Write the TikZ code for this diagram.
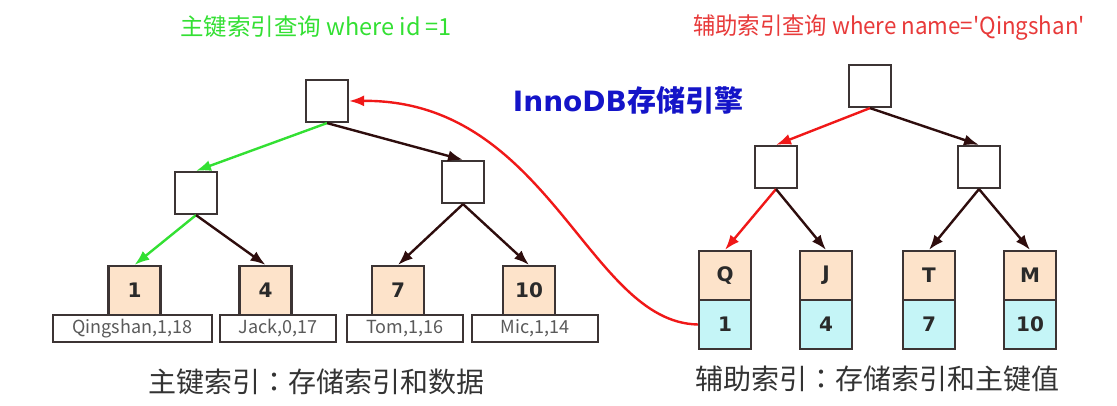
\documentclass[tikz,border=0pt]{standalone}
\usepackage{fontspec}
\usepackage{graphicx}
\setmainfont{Noto Sans CJK SC}
\newfontfamily\cjk{Noto Sans CJK SC}
\newfontfamily\cjktc{Noto Sans CJK TC}
\newfontfamily\dvs{DejaVu Sans}
\usetikzlibrary{arrows.meta}
\definecolor{greenc}{HTML}{33E033}
\definecolor{redt}{HTML}{E83A3A}
\definecolor{redl}{HTML}{F01818}
\definecolor{bluec}{HTML}{1414C8}
\definecolor{boxc}{HTML}{3C3434}
\definecolor{arrc}{HTML}{2E0D0D}
\definecolor{peach}{HTML}{FDE3CA}
\definecolor{cyanv}{HTML}{C5F5F7}
\definecolor{keyc}{HTML}{2A2A2A}
\definecolor{datac}{HTML}{5A5A5A}
\definecolor{capc}{HTML}{333333}
\begin{document}
\begin{tikzpicture}[x=1pt,y=-1pt,
  innerbox/.style={draw=boxc, line width=2.2pt, fill=white, minimum width=42pt, minimum height=42pt, inner sep=0pt},
  leafk/.style={draw=boxc, line width=2.2pt, fill=peach, minimum width=52pt, minimum height=49pt, inner sep=0pt, text=keyc, font=\dvs\bfseries\fontsize{20}{20}\selectfont},
  leafv/.style={leafk, fill=cyanv},
  databox/.style={draw=boxc, line width=2pt, fill=white, minimum height=27pt, inner sep=0pt, text=datac, font=\cjk\fontsize{18}{18}\selectfont},
  link/.style={-{Latex[length=15pt,width=11pt]}, line width=2.4pt, draw=arrc},
  glink/.style={link, draw=greenc},
  rlink/.style={link, draw=redl},
  title/.style={font=\cjk\fontsize{23.5}{23.5}\selectfont, inner sep=0pt},
  caption/.style={font=\cjk\fontsize{28}{28}\selectfont, text=capc, inner sep=0pt}
]
\fill[white] (0,0) rectangle (1117,406);
\useasboundingbox (0,0) rectangle (1117,406);

% titles
\node[title, text=greenc] (t1) at (316,27) {主键索引查询 where id =1};
\node[title, text=redt] (t2) at (889,28) {\scalebox{0.95}[1]{辅助索引查询 where name='Qingshan'}};
\node[text=bluec, inner sep=0pt] (inno) at (628,100) {{\dvs\bfseries\fontsize{28}{28}\selectfont InnoDB}{\cjk\bfseries\fontsize{29}{29}\selectfont 存储引擎}};

% left tree
\node[innerbox] (lr) at (327,101) {};
\node[innerbox] (la) at (196,193) {};
\node[innerbox] (lb) at (463,182) {};
\node[leafk] (k1) at (134.5,290.5) {1};
\node[leafk] (k4) at (265.5,290.5) {4};
\node[leafk] (k7) at (398,290.5) {7};
\node[leafk] (k10) at (529,290.5) {10};
\node[databox, minimum width=159pt] (d1) at (132.5,328.5) {Qingshan,1,18};
\node[databox, minimum width=116pt] (d4) at (278,328.5) {Jack,0,17};
\node[databox, minimum width=116pt] (d7) at (405,328.5) {Tom,1,16};
\node[databox, minimum width=126pt] (d10) at (535,328.5) {Mic,1,14};

\draw[glink] (lr.south) -- (la.north);
\draw[link] (lr.south) -- (lb.north);
\draw[glink] (la.south) -- (k1.north);
\draw[link] (la.south) -- (k4.north);
\draw[link] (lb.south) -- (k7.north);
\draw[link] (lb.south) -- (k10.north);

% right tree
\node[innerbox] (rr) at (870,86) {};
\node[innerbox] (ra) at (776,167) {};
\node[innerbox] (rb) at (979,167) {};
\node[leafk] (qk) at (725,275.5) {Q};
\node[leafv] (qv) at (725,324.5) {1};
\node[leafk] (jk) at (826,275.5) {J};
\node[leafv] (jv) at (826,324.5) {4};
\node[leafk] (tk) at (929,275.5) {T};
\node[leafv] (tv) at (929,324.5) {7};
\node[leafk] (mk) at (1030,275.5) {M};
\node[leafv] (mv) at (1030,324.5) {10};

\draw[rlink] (rr.south) -- (ra.north);
\draw[link] (rr.south) -- (rb.north);
\draw[rlink] (ra.south) -- (qk.north);
\draw[link] (ra.south) -- (jk.north);
\draw[link] (rb.south) -- (tk.north);
\draw[link] (rb.south) -- (mk.north);

% back pointer
\draw[rlink] (qv.west) .. controls +(-110,-2) and +(200,-2) .. (lr.east);

% captions
\node[caption] (c1) at (316,382) {主键索引{\cjktc ：}存储索引和数据};
\node[caption] (c2) at (877,379) {辅助索引{\cjktc ：}存储索引和主键值};
\end{tikzpicture}
\end{document}
